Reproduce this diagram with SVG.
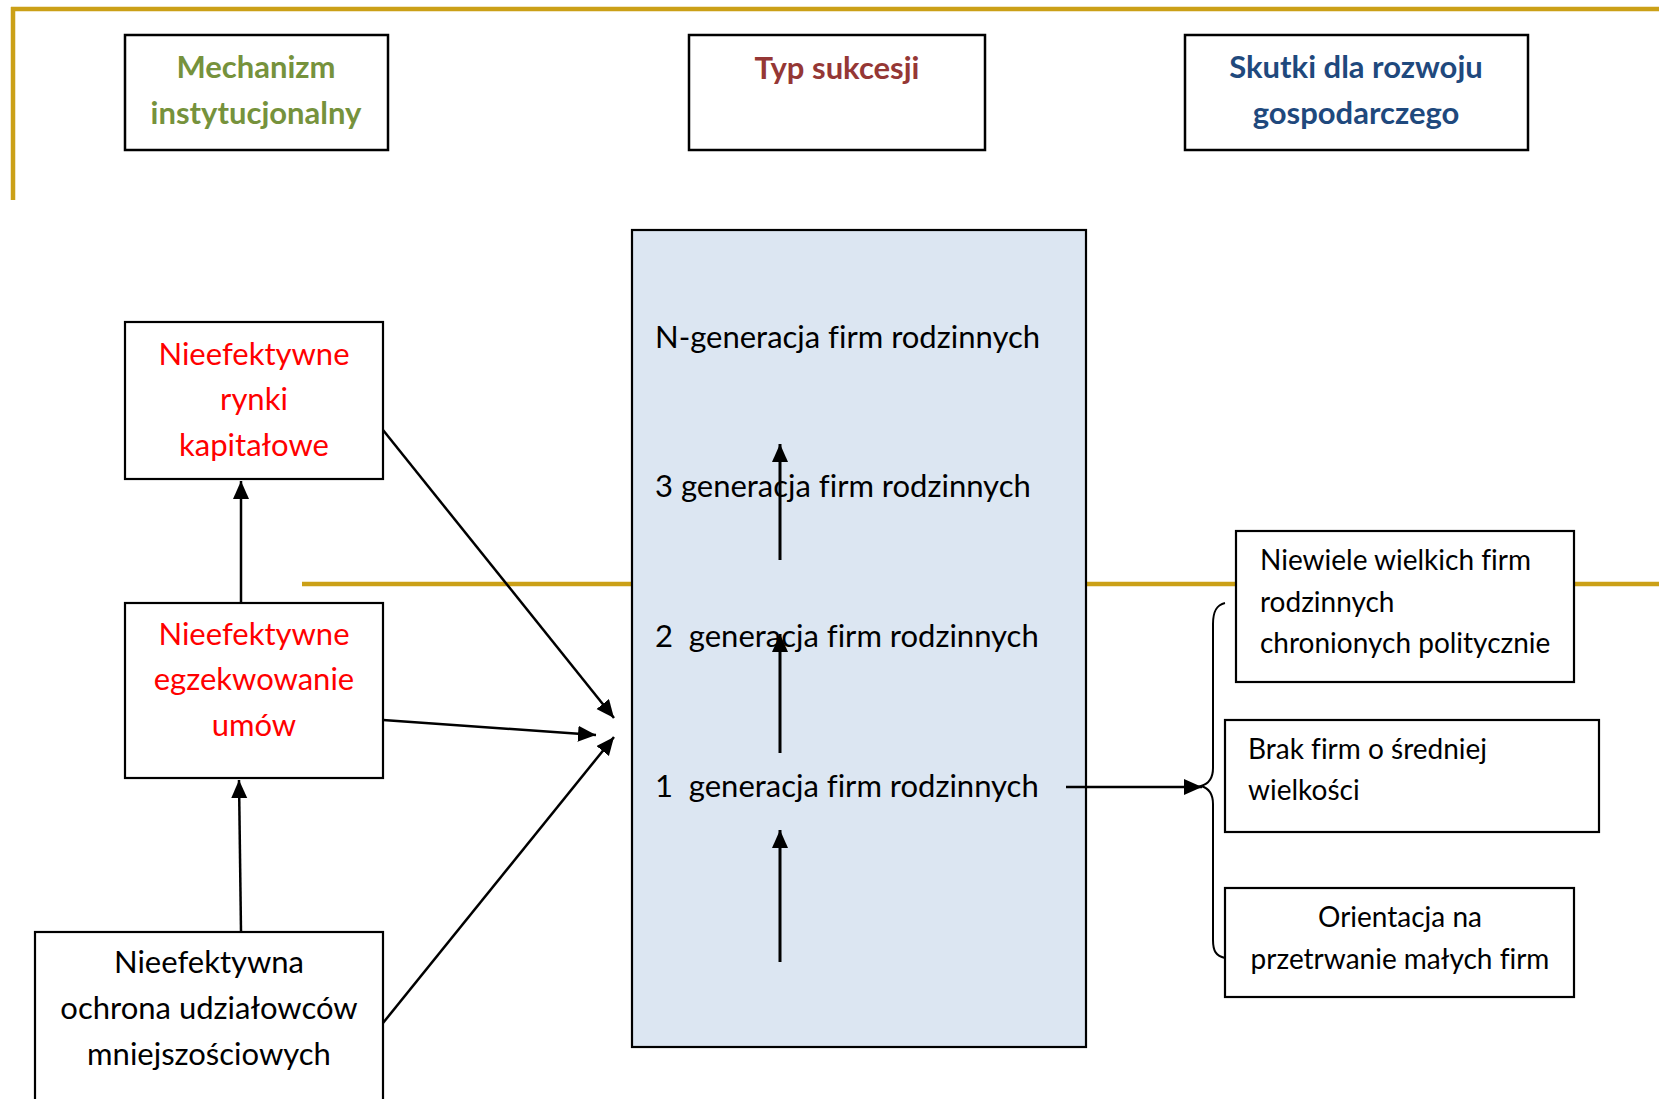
<svg xmlns="http://www.w3.org/2000/svg" width="1659" height="1099" viewBox="0 0 1659 1099">
<defs>
<style>
text{font-family:Lato,"Liberation Sans",sans-serif;font-variant-ligatures:none;font-feature-settings:"liga" 0;}
.box{fill:#ffffff;stroke:#000000;stroke-width:2.2;}
.hbox{fill:#ffffff;stroke:#000000;stroke-width:2.5;}
.hdr{font-size:31px;font-weight:bold;text-anchor:middle;}
.red{font-size:31px;fill:#FF0000;text-anchor:middle;}
.blk{font-size:31px;fill:#000000;text-anchor:middle;}
.gen{font-size:31px;fill:#000000;}
.rt{font-size:28px;fill:#000000;}
.gold{stroke:#CBA017;stroke-width:4.5;fill:none;}
.con{stroke:#000000;stroke-width:2.5;fill:none;marker-end:url(#ah);}
.up{stroke:#000000;stroke-width:3;fill:none;marker-end:url(#ah);}
</style>
<marker id="ah" markerUnits="userSpaceOnUse" markerWidth="20" markerHeight="18" refX="18" refY="8" orient="auto">
<path d="M0,0 L18,8 L0,16 z" fill="#000000"/>
</marker>
</defs>
<rect width="1659" height="1099" fill="#ffffff"/>
<g id="frame">
<line class="gold" x1="11" y1="9" x2="1659" y2="9"/>
<line class="gold" x1="13" y1="7" x2="13" y2="200"/>
<line class="gold" x1="302" y1="584" x2="1659" y2="584"/>
</g>
<g id="header-mechanizm">
<rect class="hbox" x="125" y="35" width="263" height="115"/>
<text class="hdr" x="256" y="78" fill="#76923C">Mechanizm</text>
<text class="hdr" x="256" y="124" fill="#76923C">instytucjonalny</text>
</g>
<g id="header-typ">
<rect class="hbox" x="689" y="35" width="296" height="115"/>
<text class="hdr" x="837" y="79" fill="#953735">Typ sukcesji</text>
</g>
<g id="header-skutki">
<rect class="hbox" x="1185" y="35" width="343" height="115"/>
<text class="hdr" x="1356" y="78" fill="#1F497D">Skutki dla rozwoju</text>
<text class="hdr" x="1356" y="124" fill="#1F497D">gospodarczego</text>
</g>
<g id="node-rynki">
<rect class="box" x="125" y="322" width="258" height="157"/>
<text class="red" x="254" y="365">Nieefektywne</text>
<text class="red" x="254" y="410">rynki</text>
<text class="red" x="254" y="456">kapitałowe</text>
</g>
<g id="node-umowy">
<rect class="box" x="125" y="603" width="258" height="175"/>
<text class="red" x="254" y="645">Nieefektywne</text>
<text class="red" x="254" y="690">egzekwowanie</text>
<text class="red" x="254" y="736">umów</text>
</g>
<g id="node-ochrona">
<rect class="box" x="35" y="932" width="348" height="180"/>
<text class="blk" x="209" y="973">Nieefektywna</text>
<text class="blk" x="209" y="1019">ochrona udziałowców</text>
<text class="blk" x="209" y="1065">mniejszościowych</text>
</g>
<g id="node-sukcesja">
<rect x="632" y="230" width="454" height="817" fill="#DCE6F2" stroke="#000000" stroke-width="2.2"/>
<text class="gen" x="655" y="348">N-generacja firm rodzinnych</text>
<text class="gen" x="655" y="497">3 generacja firm rodzinnych</text>
<text class="gen" x="655" y="647" xml:space="preserve">2  generacja firm rodzinnych</text>
<text class="gen" x="655" y="797" xml:space="preserve">1  generacja firm rodzinnych</text>
</g>
<g id="node-niewiele">
<rect class="box" x="1236" y="531" width="338" height="151"/>
<text class="rt" x="1260" y="570">Niewiele wielkich firm</text>
<text class="rt" x="1260" y="612">rodzinnych</text>
<text class="rt" x="1260" y="653">chronionych politycznie</text>
</g>
<g id="node-brak">
<rect class="box" x="1225" y="720" width="374" height="112"/>
<text class="rt" x="1248" y="759">Brak firm o średniej</text>
<text class="rt" x="1248" y="800">wielkości</text>
</g>
<g id="node-orientacja">
<rect class="box" x="1225" y="888" width="349" height="109"/>
<text class="rt" x="1400" y="927" text-anchor="middle">Orientacja na</text>
<text class="rt" x="1400" y="969" text-anchor="middle">przetrwanie małych firm</text>
</g>
<g id="connectors">
<line class="con" x1="241" y1="603" x2="241" y2="481"/>
<line class="con" x1="241" y1="932" x2="239" y2="780"/>
<line class="con" x1="383" y1="430" x2="614" y2="718"/>
<line class="con" x1="383" y1="720" x2="596" y2="735"/>
<line class="con" x1="383" y1="1023" x2="614" y2="737"/>
<line class="up" x1="780" y1="962" x2="780" y2="830"/>
<line class="up" x1="780" y1="753" x2="780" y2="634"/>
<line class="up" x1="780" y1="560" x2="780" y2="444"/>
<line class="con" x1="1066" y1="787" x2="1202" y2="787"/>
<path d="M1225,603 C1216,605 1213,612 1213,624 L1213,768 C1213,778 1208,784 1201,786 C1208,788 1213,794 1213,804 L1213,940 C1213,951 1216,956 1225,958" fill="none" stroke="#000000" stroke-width="2"/>
</g>
</svg>
